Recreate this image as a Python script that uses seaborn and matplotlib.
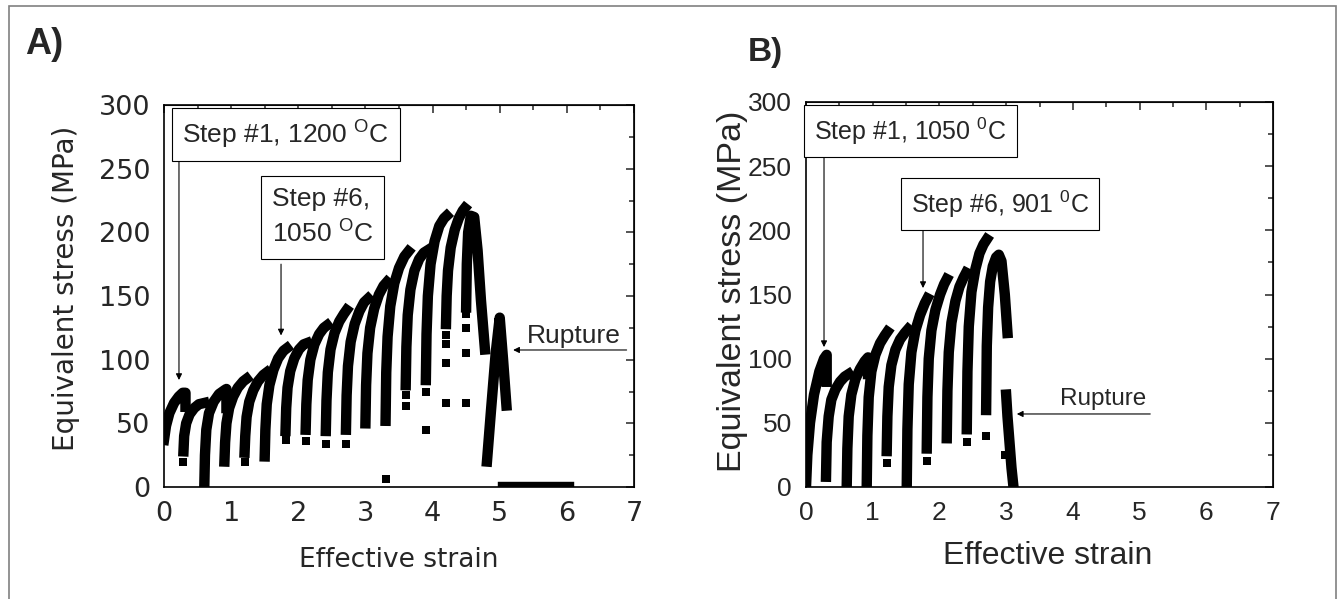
import pandas as pd
import matplotlib
matplotlib.use('Agg')
import matplotlib.pyplot as plt
from matplotlib.ticker import AutoMinorLocator, MultipleLocator
from matplotlib.patches import Rectangle
import seaborn as sns

# panel A: each pass of the multi-step test (strain, stress in MPa)
A_STRAIN = [
    [0.00, 0.03, 0.08, 0.15, 0.22, 0.28, 0.32, 0.32],
    [0.29, 0.30, 0.33, 0.38, 0.45, 0.52, 0.60],
    [0.60, 0.61, 0.63, 0.67, 0.74, 0.82, 0.90, 0.93, 0.93],
    [0.90, 0.91, 0.93, 0.97, 1.03, 1.10, 1.18, 1.23],
    [1.20, 1.21, 1.23, 1.27, 1.33, 1.40, 1.48, 1.53],
    [1.50, 1.51, 1.53, 1.57, 1.63, 1.70, 1.78, 1.83],
    [1.81, 1.82, 1.84, 1.88, 1.94, 2.01, 2.08, 2.13],
    [2.11, 2.12, 2.14, 2.18, 2.24, 2.31, 2.38, 2.43],
    [2.41, 2.42, 2.44, 2.48, 2.54, 2.61, 2.68, 2.72],
    [2.71, 2.72, 2.74, 2.78, 2.84, 2.91, 2.98, 3.04],
    [3.00, 3.01, 3.03, 3.07, 3.13, 3.20, 3.27, 3.32],
    [3.30, 3.31, 3.33, 3.37, 3.43, 3.50, 3.58, 3.64],
    [3.60, 3.61, 3.63, 3.67, 3.73, 3.80, 3.87, 3.93],
    [3.90, 3.91, 3.93, 3.97, 4.03, 4.10, 4.17, 4.21],
    [4.20, 4.21, 4.23, 4.27, 4.33, 4.39, 4.45, 4.48],
    [4.50, 4.51, 4.53, 4.57, 4.62, 4.67, 4.72, 4.78],
    [4.81, 4.87, 4.94, 5.00, 5.05, 5.10],
    [5.05, 6.03],
]
A_STRESS = [
    [37, 48, 58, 66, 71, 74, 74, 63],
    [28, 40, 50, 57, 62, 65, 66],
    [0, 25, 45, 58, 67, 73, 76, 77, 62],
    [20, 35, 50, 62, 71, 78, 83, 85],
    [27, 40, 55, 67, 76, 83, 88, 90],
    [24, 45, 65, 80, 92, 101, 107, 109],
    [44, 62, 78, 91, 101, 108, 112, 113],
    [45, 65, 84, 100, 112, 120, 125, 127],
    [44, 68, 90, 108, 121, 130, 136, 139],
    [45, 72, 95, 114, 128, 138, 145, 148],
    [50, 80, 105, 125, 140, 151, 158, 161],
    [52, 90, 118, 142, 160, 172, 181, 185],
    [80, 110, 135, 155, 170, 179, 184, 186],
    [84, 120, 150, 175, 193, 205, 211, 213],
    [128, 150, 170, 188, 202, 211, 217, 219],
    [141, 175, 200, 213, 212, 186, 147, 108],
    [20, 60, 105, 133, 100, 64],
    [0, 0],
]
# loose points at the start of some passes
A_ISO_STRAIN = [0.28, 1.20, 1.81, 2.11, 2.41, 2.71, 3.30, 3.60, 3.60, 3.90, 3.90,
                4.20, 4.20, 4.20, 4.20, 4.50, 4.50, 4.50, 4.50]
A_ISO_STRESS = [20, 20, 37, 36, 34, 34, 6, 64, 72, 45, 75,
                66, 97, 112, 119, 66, 105, 125, 136]

# panel B
B_STRAIN = [
    [0.00, 0.02, 0.06, 0.12, 0.20, 0.27, 0.31, 0.31],
    [0.30, 0.31, 0.34, 0.38, 0.44, 0.51, 0.58, 0.64],
    [0.61, 0.62, 0.64, 0.68, 0.74, 0.81, 0.88, 0.93, 0.93],
    [0.91, 0.92, 0.94, 0.98, 1.04, 1.11, 1.18, 1.22],
    [1.21, 1.22, 1.24, 1.28, 1.34, 1.41, 1.48, 1.53],
    [1.51, 1.52, 1.54, 1.58, 1.64, 1.71, 1.78, 1.82],
    [1.81, 1.82, 1.84, 1.88, 1.94, 2.01, 2.07, 2.11],
    [2.11, 2.12, 2.14, 2.18, 2.24, 2.30, 2.36, 2.40],
    [2.41, 2.42, 2.44, 2.48, 2.54, 2.60, 2.66, 2.71],
    [2.70, 2.71, 2.73, 2.76, 2.80, 2.85, 2.89, 2.93, 2.98, 3.02],
    [3.00, 3.02, 3.05, 3.08, 3.11],
]
B_STRESS = [
    [0, 25, 50, 72, 90, 100, 103, 82],
    [8, 35, 55, 68, 76, 82, 86, 88],
    [0, 30, 55, 72, 84, 92, 98, 101, 88],
    [0, 40, 70, 90, 103, 112, 118, 121],
    [28, 55, 78, 95, 107, 115, 120, 123],
    [0, 45, 80, 105, 122, 134, 143, 147],
    [30, 70, 100, 122, 138, 150, 158, 162],
    [38, 75, 105, 128, 145, 156, 163, 167],
    [45, 90, 125, 152, 170, 182, 189, 193],
    [60, 110, 140, 160, 172, 179, 181, 176, 150, 120],
    [72, 55, 35, 15, 0],
]
B_ISO_STRAIN = [1.21, 1.81, 2.41, 2.70, 2.99]
B_ISO_STRESS = [19, 20, 35, 40, 25]

X_TICKS = [0, 1, 2, 3, 4, 5, 6, 7]
Y_TICKS = [0, 50, 100, 150, 200, 250, 300]


def to_frame(strains, stresses):
    rows = []
    for i, (xs, ys) in enumerate(zip(strains, stresses)):
        for x, y in zip(xs, ys):
            rows.append({'pass': i, 'strain': x, 'stress': y})
    return pd.DataFrame(rows)


sns.set_style('white')
plt.rcParams['mathtext.fontset'] = 'custom'
plt.rcParams['mathtext.rm'] = 'Liberation Sans'
plt.rcParams['mathtext.it'] = 'Liberation Sans:italic'

W, H = 1338, 599
fig = plt.figure(figsize=(W / 100, H / 100), dpi=100)

# grey frame around the whole figure
fig.patches.append(Rectangle((9 / W, -0.02), (1336 - 9) / W, 1 - 6 / H + 0.02,
                             transform=fig.transFigure, fill=False,
                             ec='#808080', lw=1.2))

axA = fig.add_axes([164 / W, (H - 487) / H, 470 / W, 382 / H])
axB = fig.add_axes([806 / W, (H - 487) / H, 467 / W, 385 / H])


def draw_panel(ax, strains, stresses, iso_x, iso_y, tick_font, tick_size):
    df = to_frame(strains, stresses)
    sns.lineplot(data=df, x='strain', y='stress', units='pass', estimator=None,
                 sort=False, color='black', linewidth=7.5, legend=False,
                 solid_capstyle='projecting', ax=ax)
    iso = pd.DataFrame({'strain': iso_x, 'stress': iso_y})
    sns.scatterplot(data=iso, x='strain', y='stress', marker='s', s=40,
                    color='black', linewidth=0, ax=ax)
    ax.set_xlim(0, 7)
    ax.set_ylim(0, 300)
    ax.set_xticks(X_TICKS)
    ax.set_yticks(Y_TICKS)
    ax.xaxis.set_minor_locator(AutoMinorLocator(2))
    ax.yaxis.set_minor_locator(AutoMinorLocator(2))
    ax.tick_params(which='major', direction='out', length=6, width=1.1,
                   labelsize=tick_size, pad=4)
    ax.tick_params(which='minor', direction='out', length=3.5, width=1.1)
    for lab in ax.get_xticklabels() + ax.get_yticklabels():
        lab.set_family(tick_font)
    for sp in ax.spines.values():
        sp.set_linewidth(1.2)
        sp.set_color('black')
    # mirrored ticks pointing inwards on top and right
    top = ax.secondary_xaxis('top')
    top.set_xticks(X_TICKS)
    top.xaxis.set_minor_locator(MultipleLocator(0.5))
    top.tick_params(which='major', direction='in', length=6, width=1.1, labeltop=False)
    top.tick_params(which='minor', direction='in', length=3.5, width=1.1)
    right = ax.secondary_yaxis('right')
    right.set_yticks(Y_TICKS)
    right.yaxis.set_minor_locator(MultipleLocator(25))
    right.tick_params(which='major', direction='in', length=6, width=1.1, labelright=False)
    right.tick_params(which='minor', direction='in', length=3.5, width=1.1)


draw_panel(axA, A_STRAIN, A_STRESS, A_ISO_STRAIN, A_ISO_STRESS, 'DejaVu Sans', 19.5)
draw_panel(axB, B_STRAIN, B_STRESS, B_ISO_STRAIN, B_ISO_STRESS, 'Liberation Sans', 19)

# axis labels
axA.set_xlabel('Effective strain', family='DejaVu Sans', fontsize=19, va='center')
axA.xaxis.set_label_coords(0.5, -0.191)
axA.set_ylabel('Equivalent stress (MPa)', family='DejaVu Sans', fontsize=20, va='center')
axA.yaxis.set_label_coords(-0.2085, 0.52)
axB.set_xlabel('Effective strain', family='Liberation Sans', fontsize=23, va='center')
axB.xaxis.set_label_coords(0.518, -0.179)
axB.set_ylabel('Equivalent stress (MPa)', family='Liberation Sans', fontsize=24.5, va='center')
axB.yaxis.set_label_coords(-0.157, 0.509)

box = dict(boxstyle='square,pad=0.4', fc='white', ec='black', lw=0.8)
arrow = dict(arrowstyle='-|>', lw=0.8, color='black', mutation_scale=9,
             shrinkA=0, shrinkB=0)

# panel A notes
axA.text(1.81, 276.8, r'Step #1, 1200 $^{\mathrm{O}}$C', ha='center', va='center',
         family='Liberation Sans', fontsize=19, bbox=box, zorder=5)
axA.annotate('', xy=(0.223, 84), xytext=(0.223, 257.6), arrowprops=arrow)
axA.text(2.36, 211.7, 'Step #6,\n' + r'1050 $^{\mathrm{O}}$C', ha='center', va='center',
         multialignment='left', linespacing=1.45,
         family='Liberation Sans', fontsize=19, bbox=box, zorder=5)
axA.annotate('', xy=(1.743, 119), xytext=(1.743, 175), arrowprops=arrow)
axA.text(6.11, 118.6, 'Rupture', ha='center', va='center',
         family='Liberation Sans', fontsize=19)
axA.annotate('', xy=(5.2, 107.6), xytext=(6.89, 107.6), arrowprops=arrow)

# panel B notes
axB.text(1.567, 277.4, r'Step #1, 1050 $^{\mathrm{0}}$C', ha='center', va='center',
         family='Liberation Sans', fontsize=18, bbox=box, zorder=5)
axB.annotate('', xy=(0.27, 109), xytext=(0.27, 258.7), arrowprops=arrow)
axB.text(2.91, 220.5, r'Step #6, 901 $^{\mathrm{0}}$C', ha='center', va='center',
         family='Liberation Sans', fontsize=18, bbox=box, zorder=5)
axB.annotate('', xy=(1.754, 155), xytext=(1.754, 201.8), arrowprops=arrow)
axB.text(4.46, 68.6, 'Rupture', ha='center', va='center',
         family='Liberation Sans', fontsize=17.5)
axB.annotate('', xy=(3.16, 56.9), xytext=(5.16, 56.9), arrowprops=arrow)

# panel letters
fig.text(25 / W, 1 - 44.5 / H, 'A)', family='Liberation Sans', fontsize=26,
         weight='bold', ha='left', va='center')
fig.text(748 / W, 1 - 53 / H, 'B)', family='Liberation Sans', fontsize=24,
         weight='bold', ha='left', va='center')

fig.savefig('out.png', dpi=100)
